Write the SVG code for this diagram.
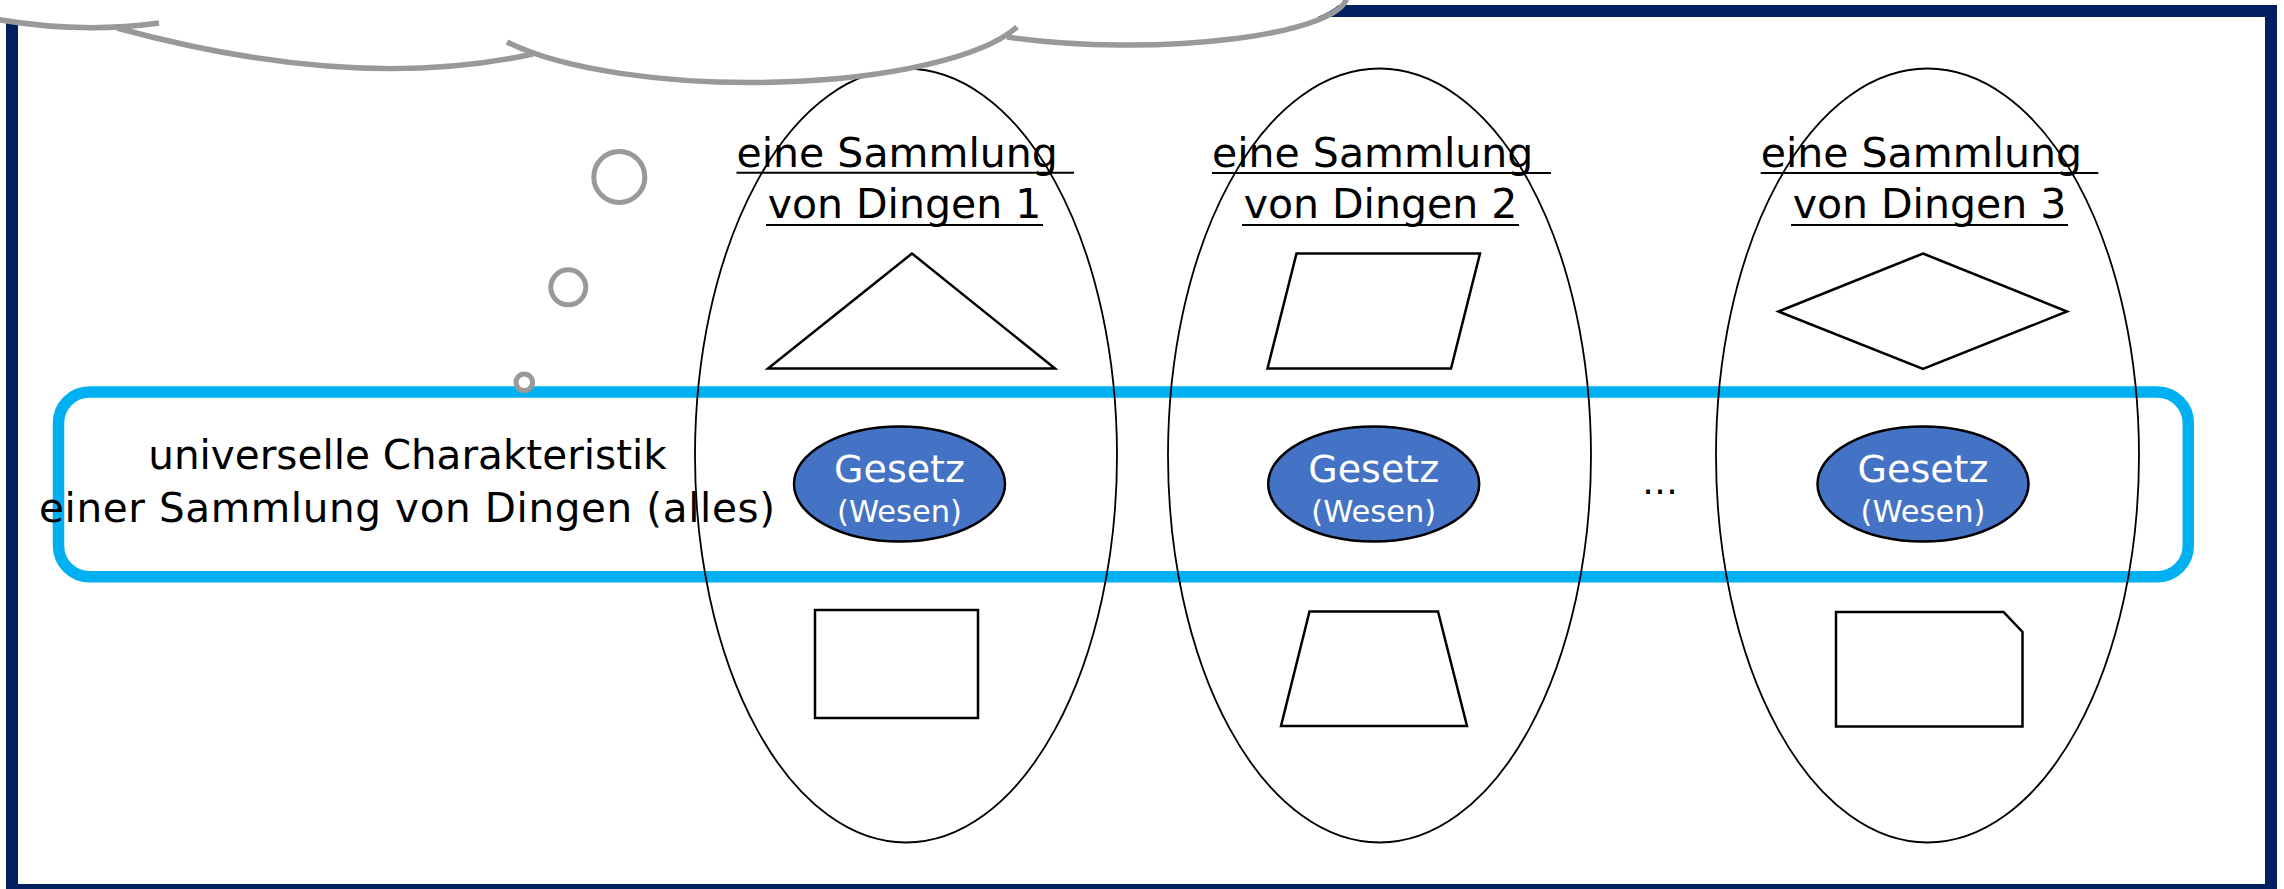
<svg xmlns="http://www.w3.org/2000/svg" width="2284" height="889" viewBox="0 0 2284 889">
<style>
.frame{fill:none;stroke:#002060;stroke-width:12}
.band{fill:none;stroke:#00B0F0;stroke-width:11.5}
.coll{fill:none;stroke:#000;stroke-width:1.8}
.shape{fill:#fff;stroke:#000;stroke-width:2.5;stroke-linejoin:miter}
.law{fill:#4472C4;stroke:#000;stroke-width:2.5}
.ul{stroke:#000;stroke-width:2}
.lbl{font-family:"DejaVu Sans","Liberation Sans",sans-serif;font-size:41px;fill:#000;text-anchor:middle}
.lbls{font-family:"DejaVu Sans","Liberation Sans",sans-serif;font-size:41px;fill:#000;text-anchor:start}
.main{font-family:"DejaVu Sans","Liberation Sans",sans-serif;font-size:40.5px;fill:#000;text-anchor:middle}
.g1{font-family:"DejaVu Sans","Liberation Sans",sans-serif;font-size:38px;fill:#fff;text-anchor:middle}
.g2{font-family:"DejaVu Sans","Liberation Sans",sans-serif;font-size:30.5px;fill:#fff;text-anchor:middle}
.cloudline{fill:none;stroke:#999;stroke-width:5.5}
.bubble{fill:#fff;stroke:#999;stroke-width:5}
</style>
<rect width="2284" height="889" fill="#fff"/>
<g id="frame"><rect class="frame" x="12" y="11" width="2259" height="879"/></g>
<g id="universal-characteristic">
<rect class="band" x="58.5" y="392" width="2129.8" height="184.7" rx="31" ry="31"/>
<text class="main" x="407.5" y="469">universelle Charakteristik</text>
<text class="main" x="407" y="521.5" textLength="736" lengthAdjust="spacing">einer Sammlung von Dingen (alles)</text>
</g>
<g id="collection-1">
<ellipse class="coll" cx="906" cy="455.5" rx="211" ry="387"/>
<text class="lbls" x="736.5" y="166.7">eine Sammlung</text>
<line class="ul" x1="736.5" y1="172.7" x2="1074" y2="172.7"/>
<text class="lbl" x="904.5" y="218.4">von Dingen 1</text>
<line class="ul" x1="766" y1="225" x2="1043" y2="225"/>
<polygon class="shape" points="912,253.5 768,368.5 1055,368.5"/>
<rect class="shape" x="815" y="610" width="163" height="108"/>
<g id="law-1"><ellipse class="law" cx="899.5" cy="484" rx="105.5" ry="57.5"/>
<text class="g1" x="899.5" y="482">Gesetz</text>
<text class="g2" x="899.5" y="521.5">(Wesen)</text></g>
</g>
<g id="collection-2">
<ellipse class="coll" cx="1379.5" cy="455.5" rx="211.5" ry="387"/>
<text class="lbls" x="1212" y="166.7">eine Sammlung</text>
<line class="ul" x1="1212" y1="172.9" x2="1551" y2="172.9"/>
<text class="lbl" x="1380.5" y="218.4">von Dingen 2</text>
<line class="ul" x1="1242" y1="225" x2="1519" y2="225"/>
<polygon class="shape" points="1296.5,253.5 1480,253.5 1451,368.5 1267.5,368.5"/>
<polygon class="shape" points="1309.5,611.5 1438,611.5 1467,726 1281,726"/>
<g id="law-2"><ellipse class="law" cx="1373.7" cy="484" rx="105.5" ry="57.5"/>
<text class="g1" x="1373.7" y="482">Gesetz</text>
<text class="g2" x="1373.7" y="521.5">(Wesen)</text></g>
</g>
<g id="ellipsis"><text class="main" x="1660" y="494" style="font-size:36px">…</text></g>
<g id="collection-3">
<ellipse class="coll" cx="1927.5" cy="455.5" rx="211.5" ry="387"/>
<text class="lbls" x="1760.7" y="166.7">eine Sammlung</text>
<line class="ul" x1="1760.7" y1="172.9" x2="2098.3" y2="172.9"/>
<text class="lbl" x="1929.5" y="218.4">von Dingen 3</text>
<line class="ul" x1="1791" y1="225" x2="2068" y2="225"/>
<polygon class="shape" points="1923,253.5 2067,311.5 1923,369 1778.5,311.5"/>
<polygon class="shape" points="1836,612 2003.5,612 2022.5,632 2022.5,726.5 1836,726.5"/>
<g id="law-3"><ellipse class="law" cx="1923" cy="484" rx="105.5" ry="57.5"/>
<text class="g1" x="1923" y="482">Gesetz</text>
<text class="g2" x="1923" y="521.5">(Wesen)</text></g>
</g>
<g id="thought-cloud">
<path fill="#fff" stroke="none" d="M-20,-20 L-20,18 L-5,19 Q58.75,30.25 119,26.9 L117,28 Q355,93 533,54 A280 80 0 0 0 1007 35 A220 50 0 0 0 1345 -5 L1345,-20 Z"/>
<path class="cloudline" d="M-5,19 Q80,34 159,23"/>
<path class="cloudline" d="M117,28 Q355,93 533,54"/>
<path class="cloudline" d="M507,42 A280 80 0 0 0 1017 27"/>
<path class="cloudline" d="M1007,37 A220 50 0 0 0 1347 -6"/>
<circle class="bubble" cx="619.3" cy="177" r="25.5"/>
<circle class="bubble" cx="568.3" cy="287.3" r="17.5"/>
<circle class="bubble" cx="524.3" cy="382.3" r="8.3"/>
</g>
<g id="connectors"/>
</svg>
